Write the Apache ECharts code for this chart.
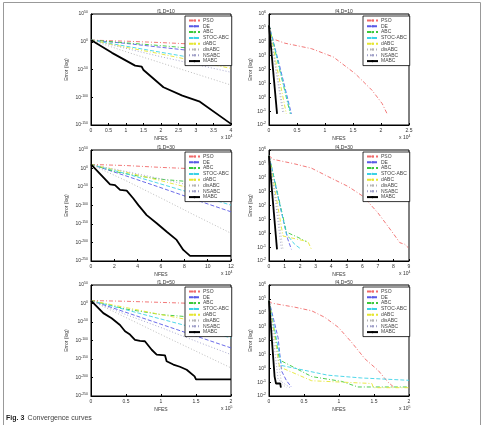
<!DOCTYPE html>
<html>
<head>
<meta charset="utf-8">
<script src="https://cdn.jsdelivr.net/npm/echarts@6/dist/echarts.min.js"></script>
<style>
  html, body { margin: 0; padding: 0; background: #fff; }
  #chart { width: 484px; height: 425px; }
</style>
</head>
<body>
<div id="chart"></div>
<script>
// series order used in every panel
var seriesNames = ['PSO', 'DE', 'ABC', 'STOC-ABC', 'dABC', 'disABC', 'NSABC', 'MABC'];

// points are [NFES (in units of the axis multiplier), log10(error)]
var f1D10 = [
  [[0, 3], [1, 1], [2, -1.5], [3, -4.5], [4, -8]],
  [[0, 3], [1, -3], [2, -10], [3, -17], [4, -25]],
  [[0, 3], [1, -2], [2, -7], [3, -12.5], [4, -18]],
  [[0, 3], [1, -8], [2, -19], [3, -30], [4, -42]],
  [[0, 3], [1, -10], [2, -22], [3, -35], [4, -48]],
  [[0, 3], [1, -18], [2, -38], [3, -58], [4, -78]],
  [[0, 3], [1, -12], [2, -27], [3, -41], [4, -55]],
  [[0, 3], [0.6, -20], [1.26, -43], [1.45, -45], [1.5, -51], [2.07, -82], [2.61, -97], [3.11, -108], [4, -148]]
];
var f4D10 = [
  [[0, 5.2], [0.04, 4.25], [0.28, 3.9], [0.76, 3.5], [1.15, 2.9], [1.54, 1.7], [1.84, 0.5], [2.02, -0.45], [2.11, -1.2]],
  [[0, 5.2], [0.2, 2.1], [0.4, -1.2]],
  [[0, 5.2], [0.19, 2.0], [0.38, -1.2]],
  [[0, 5.2], [0.195, 2.0], [0.39, -1.2]],
  [[0, 5.2], [0.15, 2.0], [0.31, -1.2]],
  [[0, 5.2], [0.13, 2.0], [0.27, -1.2]],
  [[0, 5.2], [0.12, 2.0], [0.25, -1.2]],
  [[0, 5.2], [0.144, -1.2]]
];
var f1D30 = [
  [[0, 11], [3, 8], [6, 3], [9, -1], [12, -4]],
  [[0, 11], [3, -20], [6, -52], [9, -85], [12, -117]],
  [[0, 11], [2, -8], [4, -20], [6, -29], [8.2, -35], [12, -37]],
  [[0, 11], [3, -14], [6, -42], [9, -70], [12, -99]],
  [[0, 11], [3, -10], [6, -33], [9, -57], [12, -80]],
  [[0, 11], [3, -33], [6, -80], [9, -128], [12, -175]],
  [[0, 11], [3, -8], [6, -28], [9, -49], [12, -70]],
  [[0, 11], [1.63, -43], [2.06, -45], [2.49, -58], [3.06, -60], [3.63, -81], [4.06, -99], [4.77, -126], [5.63, -148], [6.49, -171], [7.34, -193], [7.91, -220], [8.49, -236], [12, -236]]
];
var f4D30 = [
  [[0, 5.6], [0.26, 5.33], [1.65, 5.0], [2.72, 4.7], [4.0, 3.97], [5.09, 3.37], [6.05, 2.66], [7.0, 1.47], [7.88, 0.15], [8.41, -0.68], [8.73, -0.8], [8.95, -1.04]],
  [[0, 5.6], [0.7, 2.0], [1.2, -0.4], [1.44, -1.16]],
  [[0, 5.6], [1.12, 0.08], [1.87, -0.3], [2.4, -0.6]],
  [[0, 5.6], [1.12, -0.05], [1.65, -0.8], [2.08, -1.16]],
  [[0, 5.6], [0.9, -0.2], [2.5, -0.6], [2.73, -1.16]],
  [[0, 5.6], [0.5, 2.0], [0.9, -1.16]],
  [[0, 5.6], [0.45, 2.0], [0.8, -1.16]],
  [[0, 5.6], [0.515, -1.16]]
];
var f1D50 = [
  [[0, 8], [0.5, 6], [1, 3], [1.5, 0], [2, -4]],
  [[0, 8], [0.5, -24], [1, -56], [1.5, -88], [2, -120]],
  [[0, 8], [0.5, -15], [1, -30], [1.66, -40], [2, -40]],
  [[0, 8], [0.5, -17], [1, -42], [1.5, -67], [2, -93]],
  [[0, 8], [0.5, -11], [1, -30], [1.5, -48], [2, -66]],
  [[0, 8], [0.5, -38], [1, -84], [1.5, -129], [2, -174]],
  [[0, 8], [0.5, -30], [1, -65], [1.5, -102], [2, -138]],
  [[0, 8], [0.176, -26], [0.295, -40], [0.414, -58], [0.486, -75], [0.557, -84], [0.628, -98], [0.7, -101], [0.77, -102], [0.867, -125], [0.938, -138], [1.057, -140], [1.08, -156], [1.176, -165], [1.27, -171], [1.367, -179], [1.48, -197], [1.5, -205], [2, -205]]
];
var f4D50 = [
  [[0, 4.88], [0.033, 4.7], [0.37, 4.4], [0.61, 4.14], [0.8, 3.66], [0.99, 2.95], [1.18, 1.87], [1.37, 0.68], [1.56, -0.16], [1.7, -1.0], [1.78, -1.35]],
  [[0, 4.88], [0.13, 2.2], [0.18, -0.2], [0.25, -0.9], [0.32, -1.35]],
  [[0, 4.88], [0.15, 0.6], [0.61, -0.6], [1.04, -0.95], [1.27, -1.35], [2, -1.35]],
  [[0, 4.88], [0.18, 0.2], [0.84, -0.5], [1.32, -0.7], [2, -0.87]],
  [[0, 4.88], [0.15, 0.1], [0.61, -0.9], [1.47, -1.1], [1.49, -1.4], [2, -1.4]],
  [[0, 4.88], [0.18, -1.1], [0.25, -1.4]],
  [[0, 4.88], [0.13, -0.8], [0.3, -1.4]],
  [[0, 4.88], [0.08, -0.6], [0.1, -1.1], [0.16, -1.1], [0.17, -1.4]]
];

var titles = ['f1,D=10', 'f4,D=10', 'f1,D=30', 'f4,D=30', 'f1,D=50', 'f4,D=50'];
var multipliers = ['4', '4', '4', '4', '5', '5'];
var xMax = [4, 2.5, 12, 9, 2, 2];
var xStep = [0.5, 0.5, 2, 1, 0.5, 0.5];
var panelData = [f1D10, f4D10, f1D30, f4D30, f1D50, f4D50];

var colors = ['#f06a6a', '#5a5ae6', '#3cc83c', '#3cd2e6', '#e6e632', '#b4b4b4', '#a0a0c8', '#000000'];
var dashes = [[4, 2, 1, 2], [4, 2], [4, 2, 1, 2], [4, 2], [4, 2, 1, 2], [1, 2], [1, 2], 'solid'];

var chart = echarts.init(document.getElementById('chart'));

var grids = [], xAxes = [], yAxes = [], series = [], legends = [], titleList = [], graphics = [];
var lefts = [91, 269], tops = [14, 150, 285];

panelData.forEach(function (data, p) {
  var col = p % 2, row = Math.floor(p / 2);
  var gl = lefts[col], gt = tops[row], gw = 140, gh = 111;
  var isF1 = col === 0;
  grids.push({ left: gl, top: gt, width: gw, height: gh, show: true, borderColor: '#000', borderWidth: 1, backgroundColor: '#fff' });
  xAxes.push({
    type: 'value', gridIndex: p, min: 0, max: xMax[p], interval: xStep[p],
    name: 'NFES', nameLocation: 'middle', nameGap: 11,
    nameTextStyle: { fontSize: 5, color: '#333' },
    axisLine: { onZero: false, lineStyle: { color: '#000' } },
    axisTick: { inside: true, length: 2, lineStyle: { color: '#000' } },
    axisLabel: { fontSize: 5, color: '#333', margin: 3 },
    splitLine: { show: false }
  });
  yAxes.push({
    type: 'value', gridIndex: p,
    min: isF1 ? (row === 0 ? -150 : -250) : -2,
    max: isF1 ? 50 : 6,
    interval: isF1 ? 50 : 1,
    name: 'Error (log)', nameLocation: 'middle', nameGap: isF1 ? 22 : 15,
    nameTextStyle: { fontSize: 5, color: '#333' },
    axisLine: { onZero: false, lineStyle: { color: '#000' } },
    axisTick: { inside: true, length: 2, lineStyle: { color: '#000' } },
    axisLabel: {
      margin: 3, color: '#333',
      formatter: function (v) { return '{b|10}{s|' + v + '}'; },
      rich: { b: { fontSize: 5, color: '#333' }, s: { fontSize: 3.5, color: '#333', verticalAlign: 'top', padding: [0, 0, 3, 0] } }
    },
    splitLine: { show: false }
  });
  titleList.push({
    text: titles[p], left: gl + gw / 2, top: gt - 10, textAlign: 'center',
    textStyle: { fontSize: 5, fontWeight: 'normal', color: '#333' }
  });
  legends.push({
    data: seriesNames, orient: 'vertical', left: gl + gw - 46, top: gt + 2,
    itemWidth: 11, itemHeight: 3, itemGap: 0.8, padding: [2, 3],
    borderColor: '#000', borderWidth: 0.8, backgroundColor: '#fff',
    textStyle: { fontSize: 5, color: '#444', lineHeight: 5, padding: [0, 0, 0, -2] },
    selectedMode: false
  });
  graphics.push({
    type: 'text', left: gl + gw - 10, top: gt + gh + 9,
    style: { text: '{a|x 10}{s|' + multipliers[p] + '}', rich: { a: { fontSize: 5, fill: '#333' }, s: { fontSize: 3.5, fill: '#333', verticalAlign: 'top', padding: [0, 0, 3, 0] } } }
  });
  data.forEach(function (pts, i) {
    series.push({
      type: 'line', name: seriesNames[i], xAxisIndex: p, yAxisIndex: p,
      data: pts, symbol: 'none', showSymbol: false, color: colors[i],
      lineStyle: { width: i === 7 ? 1.8 : 0.9, type: dashes[i], color: colors[i] },
      z: i === 7 ? 3 : 2
    });
  });
});

// figure frame and caption
graphics.push({ type: 'polyline', shape: { points: [[3.5, 430], [3.5, 2.5], [480.5, 2.5], [480.5, 430]] }, style: { stroke: '#999', lineWidth: 1, fill: null } });
graphics.push({
  type: 'text', left: 6, top: 412,
  style: { text: '{b|Fig. 3} {n|Convergence curves}', rich: { b: { fontSize: 7, fontWeight: 'bold', fill: '#222' }, n: { fontSize: 7, fill: '#444' } } }
});

chart.setOption({
  animation: false,
  backgroundColor: '#fff',
  title: titleList,
  legend: legends,
  grid: grids,
  xAxis: xAxes,
  yAxis: yAxes,
  series: series,
  graphic: graphics
});
</script>
</body>
</html>
